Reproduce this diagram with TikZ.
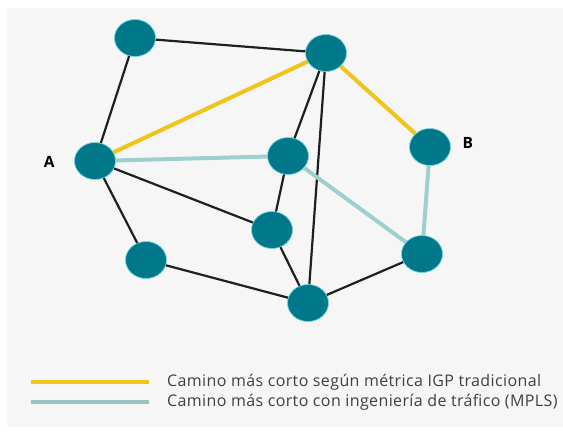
\documentclass[tikz,border=0pt]{standalone}
\usepackage{fontspec}
\setmainfont{Open Sans}
\newfontfamily\legendfont[LetterSpace=2.4]{Open Sans}
\usetikzlibrary{shapes.geometric}
\definecolor{routerfill}{HTML}{00788A}
\definecolor{routerhalo}{HTML}{6FD6E2}
\definecolor{igpyellow}{HTML}{F0C419}
\definecolor{mplsteal}{HTML}{9CCFCD}
\definecolor{panelgray}{HTML}{F6F6F6}
\begin{document}
\begin{tikzpicture}[x=1pt,y=-1pt,
	router/.style={ellipse,fill=routerfill,draw=routerhalo,line width=0.7pt,minimum width=41pt,minimum height=37pt,inner sep=0pt},
	link/.style={line width=2.2pt,black!88},
	igp/.style={line width=4pt,igpyellow},
	mpls/.style={line width=4pt,mplsteal},
	tag/.style={font=\bfseries\fontsize{15.5}{18}\selectfont},
	legtext/.style={anchor=west,inner sep=0pt,text=black!75,font=\legendfont\fontsize{16}{19}\selectfont}]
	\useasboundingbox (0,0) rectangle (563,434);
	\fill [white] (0,0) rectangle (563,434);
	\fill [panelgray] (7,8) rectangle (563,427);	% panel

	% routers
	\node [router] (r1) at (135,38) {};
	\node [router] (r2) at (326,53) {};
	\node [router] (A) at (95,161) {};
	\node [router] (r4) at (288,156) {};
	\node [router] (B) at (430,147) {};
	\node [router] (r6) at (272,230) {};
	\node [router] (r7) at (146,260) {};
	\node [router] (r8) at (422,254) {};
	\node [router] (r9) at (308,303) {};

	\node [tag,anchor=east] (labA) at (58,162) {A};
	\node [tag,anchor=west] (labB) at (459,143) {B};

	% plain links
	\draw [link] (r1) -- (r2);
	\draw [link] (r1) -- (A);
	\draw [link] (r2) -- (r4);
	\draw [link] (r2) -- (r9);
	\draw [link] (A) -- (r6);
	\draw [link] (A) -- (r7);
	\draw [link] (r4) -- (r6);
	\draw [link] (r6) -- (r9);
	\draw [link] (r7) -- (r9);
	\draw [link] (r9) -- (r8);

	% IGP path
	\draw [igp] (A) -- (r2);
	\draw [igp] (r2) -- (B);

	% MPLS path
	\draw [mpls] (A) -- (r4);
	\draw [mpls] (r4) -- (r8);
	\draw [mpls] (r8) -- (B);

	% legend
	\coordinate (igpL) at (31,382);
	\coordinate (igpR) at (149,382);
	\coordinate (mplsL) at (31,402);
	\coordinate (mplsR) at (149,402);
	\draw [igp,line width=4.5pt] (igpL) -- (igpR);
	\draw [mpls,line width=4.5pt,mplsteal!85!gray] (mplsL) -- (mplsR);
	\node [legtext] (igptext) at (167,382) {Camino más corto según métrica IGP tradicional};
	\node [legtext] (mplstext) at (167,402) {Camino más corto con ingeniería de tráfico (MPLS)};
\end{tikzpicture}
\end{document}
